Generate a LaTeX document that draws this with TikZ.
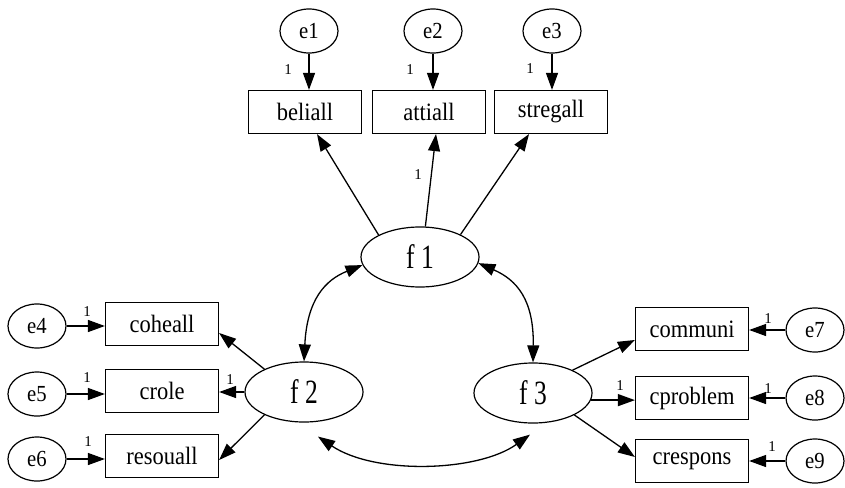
\documentclass[tikz,border=0pt]{standalone}
\usepackage{fontspec}
\usepackage{graphicx}
\setmainfont{Liberation Serif}
\usetikzlibrary{arrows.meta,shapes.geometric}

% slightly condensed lettering for the labels
\newcommand{\narrow}[2]{\scalebox{#1}[1]{#2}}

\tikzset{
  obs/.style={draw, rectangle, line width=1.2pt, minimum width=113pt, minimum height=43pt,
              inner sep=0pt, font=\fontsize{25}{25}\selectfont},
  err/.style={draw, ellipse, line width=1.2pt, minimum width=58pt, minimum height=44pt,
              inner sep=0pt, font=\fontsize{23}{23}\selectfont},
  lat/.style={draw, ellipse, line width=1.2pt, minimum width=118pt, minimum height=60pt,
              inner sep=0pt, font=\fontsize{34}{34}\selectfont},
  wt/.style={inner sep=0pt, font=\fontsize{15}{15}\selectfont},
  path/.style={line width=1.3pt, -{Triangle[length=17pt,width=12pt]}},
  cov/.style={line width=1.3pt, {Triangle[length=17pt,width=12pt]}-{Triangle[length=17pt,width=12pt]}}
}

\begin{document}
\begin{tikzpicture}[x=1pt,y=-1pt]
\useasboundingbox (0,0) rectangle (845,487);

% latent factors
\node[lat] (f1) at (420,257) {\narrow{0.75}{f 1}};
\node[lat] (f2) at (304,392) {\narrow{0.75}{f 2}};
\node[lat] (f3) at (533,393) {\narrow{0.75}{f 3}};

% indicators of f1
\node[obs] (beliall)  at (305,112) {\narrow{0.9}{beliall}};
\node[obs] (attiall)  at (429,112) {\narrow{0.9}{attiall}};
\node[obs] (stregall) at (551,112) {\narrow{0.9}{stregall}};

% indicators of f2
\node[obs] (coheall)  at (162,324) {\narrow{0.9}{coheall}};
\node[obs] (crole)    at (162,391) {\narrow{0.9}{crole}};
\node[obs] (resouall) at (162,456) {\narrow{0.9}{resouall}};

% indicators of f3
\node[obs] (communi)  at (692,329) {\narrow{0.9}{communi}};
\node[obs] (cproblem) at (692,398) {\narrow{0.9}{cproblem}};
\node[obs] (crespons) at (692,461) {\narrow{0.9}{crespons}};

% error terms
\node[err] (e1) at (309,31) {\narrow{0.9}{e1}};
\node[err] (e2) at (433,31) {\narrow{0.9}{e2}};
\node[err] (e3) at (552,31) {\narrow{0.9}{e3}};
\node[err] (e4) at (37,326) {\narrow{0.9}{e4}};
\node[err] (e5) at (37,394) {\narrow{0.9}{e5}};
\node[err] (e6) at (37,459) {\narrow{0.9}{e6}};
\node[err] (e7) at (815,330) {\narrow{0.9}{e7}};
\node[err] (e8) at (815,398) {\narrow{0.9}{e8}};
\node[err] (e9) at (815,461) {\narrow{0.9}{e9}};

% error paths
\draw[path] (e1.south) -- (e1.south |- beliall.north);
\draw[path] (e2.south) -- (e2.south |- attiall.north);
\draw[path] (e3.south) -- (e3.south |- stregall.north);
\draw[path] (e4.east) -- (e4.east -| coheall.west);
\draw[path] (e5.east) -- (e5.east -| crole.west);
\draw[path] (e6.east) -- (e6.east -| resouall.west);
\draw[path] (e7.west) -- (e7.west -| communi.east);
\draw[path] (e8.west) -- (e8.west -| cproblem.east);
\draw[path] (e9.west) -- (e9.west -| crespons.east);

% factor loadings
\draw[path] (f1.152) -- ([xshift=12pt]beliall.south);
\draw[path] (f1.80)  -- ([xshift=7pt]attiall.south);
\draw[path] (f1.29)  -- ([xshift=-22pt]stregall.south);

\draw[path] (f2.150) -- ([yshift=-9pt]coheall.east);
\draw[path] (f2.west) -- (f2.west -| crole.east);
\draw[path] (f2.210) -- ([yshift=-4pt]resouall.east);

\draw[path] (f3.30)  -- ([yshift=-11pt]communi.west);
\draw[path] (f3.-7)  -- (f3.-7 -| cproblem.west);
\draw[path] (f3.-28) -- ([yshift=4pt]crespons.west);

% factor covariances
\draw[cov] (f1.188) .. controls (325,280) and (307,300) .. (f2.north);
\draw[cov] (f1.-6) .. controls (517,280) and (534,300) .. (f3.north);
\draw[cov] ([xshift=14pt,yshift=-14pt]f2.south) .. controls (375,475) and (478,472) .. ([xshift=-3pt,yshift=-11pt]f3.south);

% fixed weights
\node[wt] (w1)  at (288,70)  {1};
\node[wt] (w2)  at (410,70)  {1};
\node[wt] (w3)  at (530,69)  {1};
\node[wt] (w4)  at (418,175) {1};
\node[wt] (w5)  at (87,312)  {1};
\node[wt] (w6)  at (87,378)  {1};
\node[wt] (w7)  at (88,442)  {1};
\node[wt] (w8)  at (230,380) {1};
\node[wt] (w9)  at (768,319) {1};
\node[wt] (w10) at (768,389) {1};
\node[wt] (w11) at (772,447) {1};
\node[wt] (w12) at (620,386) {1};
\end{tikzpicture}
\end{document}
